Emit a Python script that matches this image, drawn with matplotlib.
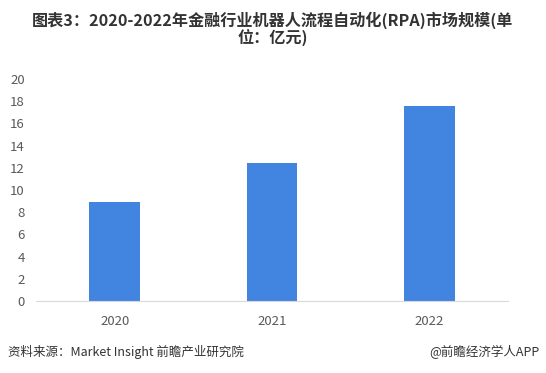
import matplotlib.pyplot as plt
import numpy as np

plt.rcParams['font.family'] = ['Noto Sans CJK SC', 'DejaVu Sans']

# Data
years = ['2020', '2021', '2022']
values = [8.9, 12.4, 17.6]

fig = plt.figure(figsize=(5.46, 3.73), dpi=100)
ax = fig.add_axes([36 / 546, 1 - 301 / 373, 472 / 546, 222 / 373])

x = np.arange(len(years))
ax.bar(x, values, width=0.32, color='#4285e0')

ax.set_xlim(-0.5, 2.5)
ax.set_ylim(0, 20)
ax.set_yticks(range(0, 21, 2))
ax.set_xticks(x)
ax.set_xticklabels(years)
ax.tick_params(axis='both', length=0, labelsize=9.5, colors='#595959')
ax.tick_params(axis='x', pad=10)
ax.tick_params(axis='y', pad=8)

for side in ['top', 'right', 'left']:
    ax.spines[side].set_visible(False)
ax.spines['bottom'].set_color('#d9d9d9')

fig.text(0.5, 1 - 29 / 373, '图表3：2020-2022年金融行业机器人流程自动化(RPA)市场规模(单\n位：亿元)',
         ha='center', va='center', fontsize=11.6, fontweight='bold', color='#333333',
         linespacing=1.05)

fig.text(8 / 546, 1 - 352 / 373, '资料来源：Market Insight 前瞻产业研究院', ha='left', va='center',
         fontsize=9, color='#333333')
fig.text(540 / 546, 1 - 352 / 373, '@前瞻经济学人APP', ha='right', va='center',
         fontsize=9, color='#333333')

plt.savefig('out.png', dpi=100)
